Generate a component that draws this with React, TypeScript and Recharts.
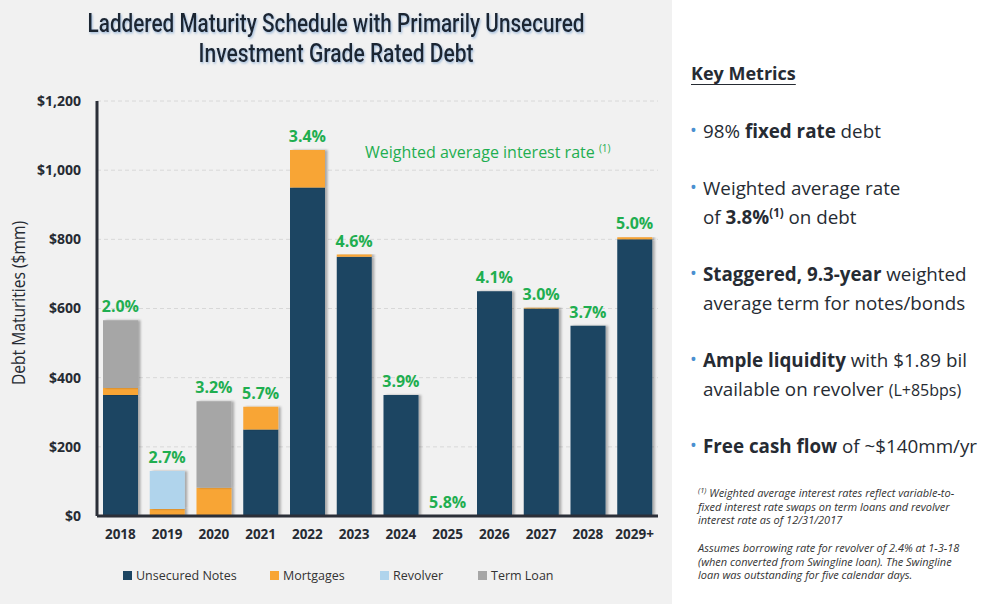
import {
  ComposedChart,
  Bar,
  Line,
  XAxis,
  YAxis,
  CartesianGrid,
  Legend,
  LabelList,
} from "recharts";

const years = ["2018", "2019", "2020", "2021", "2022", "2023", "2024", "2025", "2026", "2027", "2028", "2029+"];
const unsecured = [350, 0, 0, 250, 950, 750, 350, 0, 650, 600, 550, 800];
const mortgages = [20, 20, 82, 66, 108, 6, 0, 0, 0, 2, 0, 6];
const revolver = [0, 110, 0, 0, 0, 0, 0, 0, 0, 0, 0, 0];
const termLoan = [196, 0, 250, 0, 0, 0, 0, 0, 0, 0, 0, 0];
const rates = ["2.0%", "2.7%", "3.2%", "5.7%", "3.4%", "4.6%", "3.9%", "5.8%", "4.1%", "3.0%", "3.7%", "5.0%"];
const yTicks = [0, 200, 400, 600, 800, 1000, 1200];

const series = [
  { key: "unsecured", name: "Unsecured Notes", color: "#1c4562", left: 123 },
  { key: "mortgages", name: "Mortgages", color: "#f8a535", left: 270 },
  { key: "revolver", name: "Revolver", color: "#b0d4ec", left: 380 },
  { key: "termLoan", name: "Term Loan", color: "#a6a6a6", left: 478 },
];

const data = years.map((year, i) => ({
  year,
  unsecured: unsecured[i],
  mortgages: mortgages[i],
  revolver: revolver[i],
  termLoan: termLoan[i],
  total: unsecured[i] + mortgages[i] + revolver[i] + termLoan[i],
  rate: rates[i],
}));

const GREEN = "#1fae50";
const TEXT = "#262b33";
const SANS = "'Open Sans', 'Noto Sans', sans-serif";

function LegendContent() {
  return (
    <div style={{ position: "relative", fontFamily: SANS, fontSize: 12.5, color: "#333", height: 20 }}>
      {series.map((s) => (
        <div key={s.key} style={{ position: "absolute", left: s.left, top: 0, display: "flex", alignItems: "center", gap: 4, whiteSpace: "nowrap" }}>
          <span style={{ width: 9, height: 9, background: s.color, display: "inline-block" }} />
          <span>{s.name}</span>
        </div>
      ))}
    </div>
  );
}

function YTitle() {
  return (
    <text
      x={25}
      y={303}
      transform="rotate(-90 25 303)"
      textAnchor="middle"
      fill={TEXT}
      fontSize={18}
      fontFamily={SANS}
      textLength={164}
      lengthAdjust="spacingAndGlyphs"
    >
      Debt Maturities ($mm)
    </text>
  );
}

const bullet = (top: number, lines: React.ReactNode[]) => (
  <div style={{ position: "absolute", left: 690, top, fontFamily: SANS, fontSize: 18.8, color: TEXT, lineHeight: "29px" }}>
    <span style={{ position: "absolute", left: 0, top: -1, color: "#4a8fd0", fontSize: 18 }}>•</span>
    {lines.map((l, i) => (
      <div key={i} style={{ paddingLeft: 13, whiteSpace: "nowrap" }}>{l}</div>
    ))}
  </div>
);

const sup = (t: string, size: number, top: number) => (
  <span style={{ fontSize: size, position: "relative", top, lineHeight: 0 }}>{t}</span>
);

export default function App() {
  return (
    <div style={{ position: "absolute", left: 0, top: 0, width: 1002, height: 604, background: "#fff", overflow: "hidden" }}>
      <div style={{ position: "absolute", left: 0, top: 0, width: 672, height: 604, background: "#f1f1f1" }} />

      <svg style={{ position: "absolute", left: 0, top: 0 }} width={672} height={90}>
        <defs>
          <filter id="titleShadow" x="-10%" y="-50%" width="120%" height="200%">
            <feDropShadow dx="1" dy="1.5" stdDeviation="1" floodColor="#5b8fc7" floodOpacity="0.55" />
          </filter>
        </defs>
        <g filter="url(#titleShadow)" fill="#1f2532" fontFamily="'Liberation Sans Narrow', Roboto, sans-serif" fontSize={26} fontWeight={500}>
          <text x={336} y={31.5} textAnchor="middle" textLength={497} lengthAdjust="spacingAndGlyphs">
            Laddered Maturity Schedule with Primarily Unsecured
          </text>
          <text x={336} y={61.5} textAnchor="middle" textLength={275} lengthAdjust="spacingAndGlyphs">
            Investment Grade Rated Debt
          </text>
        </g>
      </svg>

      <div style={{ position: "absolute", left: 0, top: 0 }}>
        <ComposedChart width={672} height={604} data={data} margin={{ top: 101, right: 14, left: 0, bottom: 58 }}>
          <defs>
            <filter id="barShadow" x="-10%" y="-5%" width="130%" height="110%">
              <feDropShadow dx="2.5" dy="0" stdDeviation="1.2" floodColor="#000" floodOpacity="0.3" />
            </filter>
          </defs>
          <CartesianGrid vertical={false} stroke="#d8d8d8" strokeDasharray="4 3" />
          <XAxis
            dataKey="year"
            height={30}
            tickSize={0}
            tickMargin={13}
            axisLine={{ stroke: "#2b2f38", strokeWidth: 3 }}
            tick={{ fill: TEXT, fontSize: 13.5, fontWeight: 700, fontFamily: SANS }}
            interval={0}
          />
          <YAxis
            width={97}
            domain={[0, 1200]}
            ticks={yTicks}
            tickSize={0}
            tickMargin={16}
            axisLine={{ stroke: "#2b2f38", strokeWidth: 3 }}
            tick={{ fill: TEXT, fontSize: 14, fontWeight: 700, fontFamily: SANS }}
            tickFormatter={(v) => `$${Number(v).toLocaleString("en-US")}`}
            label={<YTitle />}
          />
          {series.map((s) => (
            <Bar
              key={s.key}
              dataKey={s.key}
              name={s.name}
              stackId="a"
              fill={s.color}
              barSize={35}
              filter="url(#barShadow)"
              isAnimationActive={false}
            />
          ))}
          <Line dataKey="total" stroke="none" dot={false} activeDot={false} isAnimationActive={false} legendType="none">
            <LabelList dataKey="rate" position="top" offset={8} fill={GREEN} fontSize={16} fontWeight={700} fontFamily={SANS} />
          </Line>
          <Legend content={<LegendContent />} wrapperStyle={{ top: 567, left: 0, width: 672, height: 0 }} />
        </ComposedChart>
      </div>

      <div style={{ position: "absolute", left: 365, top: 141, color: GREEN, fontFamily: SANS, fontSize: 16, whiteSpace: "nowrap" }}>
        Weighted average interest rate {sup("(1)", 10, -6)}
      </div>

      <div style={{ position: "absolute", left: 691, top: 61, fontFamily: SANS, fontSize: 18, fontWeight: 700, color: TEXT, textDecoration: "underline", textUnderlineOffset: 4 }}>
        Key Metrics
      </div>

      {bullet(117, [<>98% <b>fixed rate</b> debt</>])}
      {bullet(174, [<>Weighted average rate</>, <>of <b>3.8%{sup("(1)", 11.5, -7)}</b> on debt</>])}
      {bullet(260, [<><b>Staggered, 9.3-year</b> weighted</>, <>average term for notes/bonds</>])}
      {bullet(346, [<><b>Ample liquidity</b> with $1.89 bil</>, <>available on revolver <span style={{ fontSize: 16 }}>(L+85bps)</span></>])}
      {bullet(432, [<><b>Free cash flow</b> of ~$140mm/yr</>])}

      <div style={{ position: "absolute", left: 698, top: 486, width: 302, fontFamily: SANS, fontSize: 11, fontStyle: "italic", color: "#333", lineHeight: "13.7px" }}>
        <div style={{ whiteSpace: "nowrap" }}>
          {sup("(1)", 7.5, -4)} Weighted average interest rates reflect variable-to-
          <br />
          fixed interest rate swaps on term loans and revolver
          <br />
          interest rate as of 12/31/2017
        </div>
        <div style={{ marginTop: 13.7, whiteSpace: "nowrap" }}>
          Assumes borrowing rate for revolver of 2.4% at 1-3-18
          <br />
          (when converted from Swingline loan). The Swingline
          <br />
          loan was outstanding for five calendar days.
        </div>
      </div>
    </div>
  );
}
